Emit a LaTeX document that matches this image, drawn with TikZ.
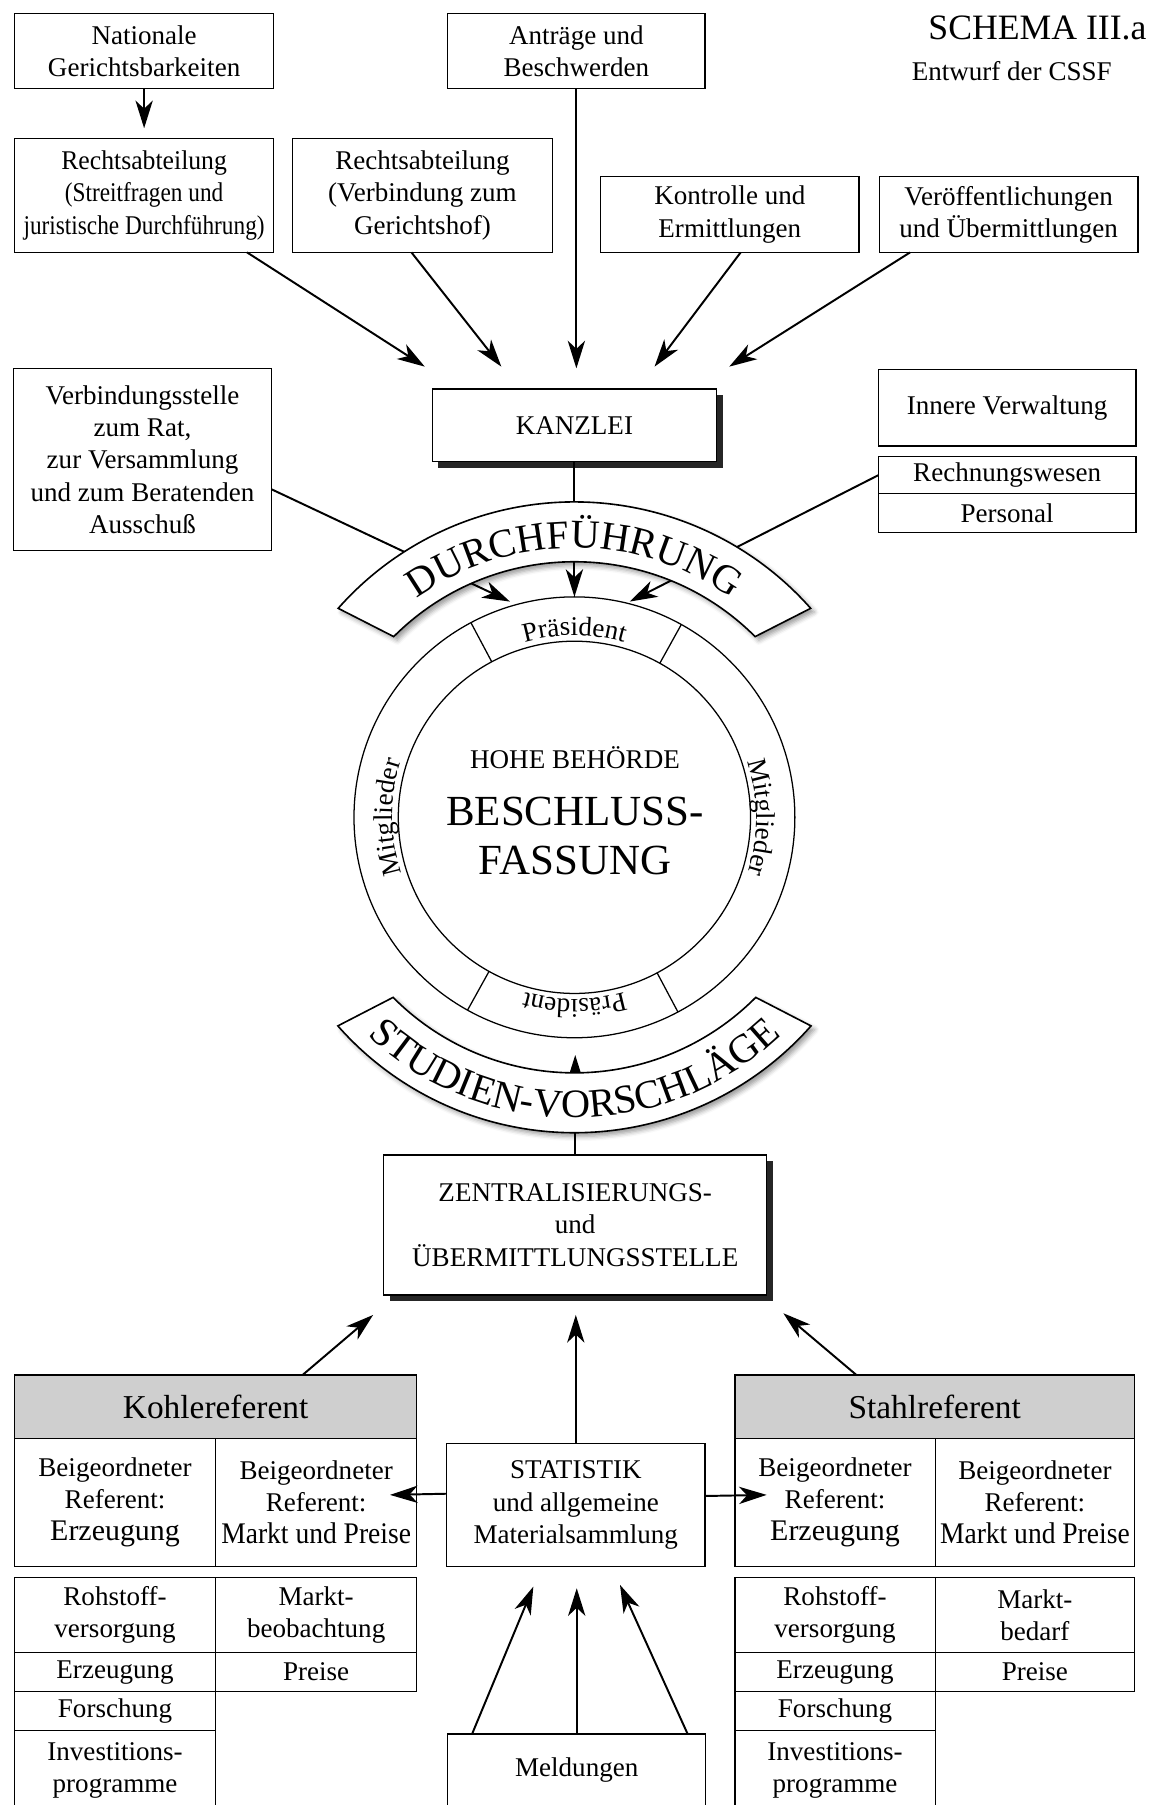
\documentclass[tikz,border=0pt]{standalone}
\usepackage{fontspec}
\usepackage{graphicx}
\setmainfont{Liberation Serif}
\usetikzlibrary{arrows.meta,positioning,shadows,shadows.blur,decorations.text}

\newcommand{\bandfont}{\fontsize{17.5pt}{18pt}\selectfont}
\newcommand{\ringfont}{\fontsize{11.75pt}{14pt}\selectfont}
\newcommand{\cellbig}{\fontsize{13pt}{14pt}\selectfont}

\begin{document}
\begin{tikzpicture}[
  x=0.5pt, y=0.5pt,
  font=\fontsize{11.75pt}{14pt}\selectfont,
  >={Stealth[length=12pt, width=7.5pt, inset=3.5pt]},
  arr/.style={->, line width=0.85pt},
  box/.style={draw, line width=0.6pt, fill=white, align=center,
              inner sep=0pt, outer sep=0pt},
  heavy/.style={box, drop shadow={shadow xshift=2.7pt, shadow yshift=-2.7pt,
                opacity=1, fill=black!85}},
  head/.style={box, fill=black!19, font=\fontsize{14.5pt}{16pt}\selectfont},
  band/.style={draw, line width=0.7pt, fill=white,
               blur shadow={shadow xshift=1.6pt, shadow yshift=-1.6pt,
                            shadow blur radius=2pt}},
  disc/.style={circle, draw, line width=0.55pt, inner sep=0pt, outer sep=0pt},
  curved/.style={decorate, decoration={text along path, text align=center,
                 text={#1}}}
]
\useasboundingbox (0,0) rectangle (1012,-1568);
\clip (0,0) rectangle (1012,-1568);

% title
\node[anchor=base east, font=\fontsize{15.5pt}{17pt}\selectfont] (schema)
  at (1003,-34.7) {SCHEMA III.a};
\node[anchor=base west] (entwurf) at (785,-69.5) {Entwurf der CSSF};

% upper services
\node[box, minimum width=112.5pt, minimum height=32.5pt] (nat) at (125.2,-44.2)
  {Nationale\\Gerichtsbarkeiten};
\node[box, minimum width=111.7pt, minimum height=32.5pt] (antr) at (500.7,-44.2)
  {Anträge und\\Beschwerden};
\node[box, minimum width=112.5pt, minimum height=49.5pt] (recht1) at (125.2,-169.7)
  {\scalebox{0.95}[1]{Rechtsabteilung}\\\scalebox{0.86}[1]{(Streitfragen und}\\\scalebox{0.86}[1]{juristische Durchführung)}};
\node[box, minimum width=112.7pt, minimum height=49.5pt] (recht2) at (367,-169.7)
  {Rechtsabteilung\\(Verbindung zum\\Gerichtshof)};
\node[box, minimum width=112.25pt, minimum height=32.85pt] (kontr) at (634,-186.4)
  {Kontrolle und\\Ermittlungen};
\node[box, minimum width=112.2pt, minimum height=32.85pt] (veroeff) at (876.2,-186.4)
  {Veröffentlichungen\\und Übermittlungen};

\node[heavy, minimum width=123.5pt, minimum height=31.5pt] (kanzlei) at (499,-369.5)
  {KANZLEI};
\node[box, minimum width=112.2pt, minimum height=79.2pt] (verb) at (123.8,-399.2)
  {Verbindungsstelle\\zum Rat,\\zur Versammlung\\und zum Beratenden\\Ausschuß};
\node[box, minimum width=111.9pt, minimum height=33.3pt] (innere) at (874.9,-354.1)
  {Innere Verwaltung};
\node[box, minimum width=111.9pt, minimum height=16.15pt] (rechnung) at (874.9,-412.8)
  {Rechnungswesen};
\node[box, minimum width=111.9pt, minimum height=16.7pt, below=0pt of rechnung] (personal)
  {Personal};

% arrow ends
\coordinate (k1) at (369,-318.5);
\coordinate (k2) at (435.5,-318.5);
\coordinate (k3) at (500.7,-320);
\coordinate (k4) at (568.6,-318.5);
\coordinate (k5) at (633.5,-318.5);
\coordinate (d1) at (443,-522.6);
\coordinate (d3) at (547,-522.6);
\coordinate (sv) at (499.7,-916.5);

\draw[arr, shorten >=4.4pt] (nat) -- (recht1);
\draw[arr] (recht1.-29.5) -- (k1);
\draw[arr] (recht2.-101) -- (k2);
\draw[arr] (antr.south) -- (k3);
\draw[arr] (kontr.-74.4) -- (k4);
\draw[arr] (veroeff.-159) -- (k5);

% the High Authority
\node[disc, minimum size=191.5pt] (ring) at (499,-710) {};
\node[disc, minimum size=153pt] (core) at (499,-710) {};
\foreach \a in {61.5,118.5,241.5,298.5}
  \draw[line width=0.55pt] (core.\a) -- (ring.\a);

\node[anchor=base] (hohe) at (499.5,-667.7) {HOHE BEHÖRDE};
\node[anchor=base, font=\fontsize{18.65pt}{20pt}\selectfont] (beschluss)
  at (499.5,-717.5) {BESCHLUSS-};
\node[anchor=base, font=\fontsize{18.65pt}{20pt}\selectfont] (fassung)
  at (499.5,-759.5) {FASSUNG};

% lower services
\node[heavy, minimum width=166.3pt, minimum height=60.85pt] (zentral) at (499.7,-1064.15)
  {ZENTRALISIERUNGS-\\und\\ÜBERMITTLUNGSSTELLE};

% connectors through the two bands
\draw[arr] (verb.-13.2) -- (d1);
\draw[arr] (kanzlei.south) -- (ring.north);
\draw[arr] (rechnung.west) -- (d3);
\draw[arr] (zentral.north) -- (sv);

\begin{scope}[shift={(ring.center)}]
  \draw[band] (138.5:274) arc[start angle=138.5, end angle=41.5, radius=274]
    -- (45:222) arc[start angle=45, end angle=135, radius=222] -- cycle;
  \draw[band] (221.4:274) arc[start angle=221.4, end angle=318.6, radius=274]
    -- (315.2:222) arc[start angle=315.2, end angle=224.8, radius=222] -- cycle;
  \path[curved={|\bandfont|DURCHFÜHRUNG}]
    (137:234) arc[start angle=137, end angle=43, radius=234];
  \path[curved={|\bandfont|STUDIEN-VORSCHLÄGE}]
    (223:261) arc[start angle=223, end angle=317, radius=261];
  \path[curved={|\ringfont|Präsident}]
    (120:158) arc[start angle=120, end angle=60, radius=158];
  \path[curved={|\ringfont|Präsident}]
    (300:158) arc[start angle=300, end angle=240, radius=158];
  \path[curved={|\ringfont|Mitglieder}]
    (240:158) arc[start angle=240, end angle=120, radius=158];
  \path[curved={|\ringfont|Mitglieder}]
    (60:158) arc[start angle=60, end angle=-60, radius=158];
\end{scope}

% coal rapporteur
\node[head, minimum width=174.7pt, minimum height=27.5pt] (kohle) at (187.3,-1221.9)
  {Kohlereferent};
\node[box, minimum width=87.35pt, minimum height=55.8pt, anchor=north west] (kerz)
  at (kohle.south west) {Beigeordneter\\Referent:\\{\cellbig Erzeugung}};
\node[box, minimum width=87.35pt, minimum height=55.8pt, anchor=north west] (kmkt)
  at (kerz.north east) {Beigeordneter\\Referent:\\\scalebox{0.92}[1]{\cellbig Markt und Preise}};
\node[box, minimum width=87.35pt, minimum height=32.55pt, anchor=north west] (krohs)
  at (12.6,-1370.5) {Rohstoff-\\versorgung};
\node[box, minimum width=87.35pt, minimum height=16.95pt, below=0pt of krohs] (kerz2) {Erzeugung};
\node[box, minimum width=87.35pt, minimum height=16.95pt, below=0pt of kerz2] (kfor) {Forschung};
\node[box, minimum width=87.35pt, minimum height=34.8pt, below=0pt of kfor] (kinv)
  {Investitions-\\programme};
\node[box, minimum width=87.35pt, minimum height=32.55pt, anchor=north west] (kmarkt)
  at (krohs.north east) {Markt-\\beobachtung};
\node[box, minimum width=87.35pt, minimum height=16.95pt, below=0pt of kmarkt] (kpreis) {Preise};

% steel rapporteur
\node[head, minimum width=173.6pt, minimum height=27.5pt] (stahl) at (812,-1221.9)
  {Stahlreferent};
\node[box, minimum width=87pt, minimum height=55.8pt, anchor=north west] (serz)
  at (stahl.south west) {Beigeordneter\\Referent:\\{\cellbig Erzeugung}};
\node[box, minimum width=86.6pt, minimum height=55.8pt, anchor=north west] (smkt)
  at (serz.north east) {Beigeordneter\\Referent:\\\scalebox{0.92}[1]{\cellbig Markt und Preise}};
\node[box, minimum width=87pt, minimum height=32.55pt, anchor=north west] (srohs)
  at (638.4,-1370.5) {Rohstoff-\\versorgung};
\node[box, minimum width=87pt, minimum height=16.95pt, below=0pt of srohs] (serz2) {Erzeugung};
\node[box, minimum width=87pt, minimum height=16.95pt, below=0pt of serz2] (sfor) {Forschung};
\node[box, minimum width=87pt, minimum height=34.8pt, below=0pt of sfor] (sinv)
  {Investitions-\\programme};
\node[box, minimum width=86.6pt, minimum height=32.55pt, anchor=north west] (smarkt)
  at (srohs.north east) {Markt-\\bedarf};
\node[box, minimum width=86.6pt, minimum height=16.95pt, below=0pt of smarkt] (spreis) {Preise};

% statistics and reports
\node[box, minimum width=112.2pt, minimum height=53.6pt] (stat) at (500.2,-1307.4)
  {STATISTIK\\und allgemeine\\Materialsammlung};
\node[box, minimum width=112pt, minimum height=31.3pt] (meld) at (501,-1537.6)
  {Meldungen};

\coordinate (z1) at (324.1,-1142.3);
\coordinate (z2) at (500.2,-1142.3);
\coordinate (z3) at (680.5,-1140.8);
\coordinate (sl) at (338.8,-1298.6);
\coordinate (sr) at (666,-1298.6);
\coordinate (m1) at (463.3,-1378.3);
\coordinate (m2) at (501,-1379.7);
\coordinate (m3) at (538.6,-1376.8);

\draw[arr] (kohle.20.9) -- (z1);
\draw[arr] (stat.north) -- (z2);
\draw[arr] (stahl.158.1) -- (z3);
\draw[arr] (stat.175.5) -- (sl);
\draw[arr] (stat.4.5) -- (sr);
\draw[arr] (meld.161.2) -- (m1);
\draw[arr] (meld.north) -- (m2);
\draw[arr] (meld.18.7) -- (m3);

\end{tikzpicture}
\end{document}
